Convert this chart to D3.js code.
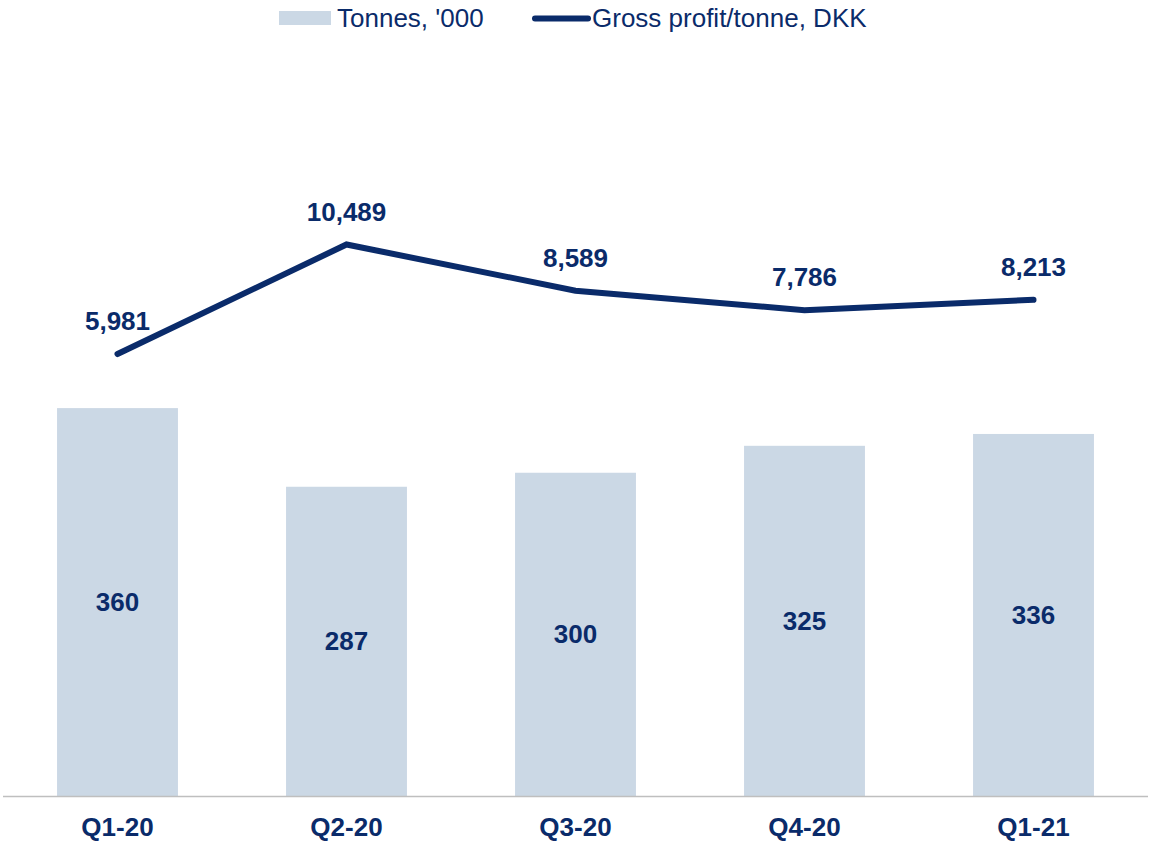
<!DOCTYPE html>
<html>
<head>
<meta charset="utf-8">
<script src="https://cdn.jsdelivr.net/npm/d3@7"></script>
<style>
  body { margin: 0; background: #fff; }
  svg text { font-family: Arial, "Liberation Sans", sans-serif; }
</style>
</head>
<body>
<svg id="chart" width="1152" height="841"></svg>
<script>
// chart values
const quarters = ["Q1-20", "Q2-20", "Q3-20", "Q4-20", "Q1-21"];
const tonnes = [360, 287, 300, 325, 336];
const profitPerTonne = [5981, 10489, 8589, 7786, 8213];
const legendLabels = ["Tonnes, '000", "Gross profit/tonne, DKK"];

const navy = "#0a2b6a";
const barFill = "#cbd8e5";

const svg = d3.select("#chart");

const x = d3.scaleBand()
    .domain(quarters)
    .range([3, 1148])
    .paddingInner(0.472)
    .paddingOuter(0.236);

const yBar = d3.scaleLinear().domain([0, 400]).range([796, 365]);
const yLine = d3.scaleLinear().domain([0, 12000]).range([499.3, 207.8]);

const cx = (d, i) => x(quarters[i]) + x.bandwidth() / 2;

// bars
svg.append("g")
    .selectAll("rect")
    .data(tonnes)
    .join("rect")
    .attr("x", (d, i) => x(quarters[i]))
    .attr("y", d => yBar(d))
    .attr("width", x.bandwidth())
    .attr("height", d => yBar(0) - yBar(d))
    .attr("fill", barFill);

// bar labels, centred in bar
svg.append("g")
    .selectAll("text")
    .data(tonnes)
    .join("text")
    .attr("x", cx)
    .attr("y", d => (yBar(d) + yBar(0)) / 2 + 9)
    .attr("text-anchor", "middle")
    .attr("font-size", 26)
    .attr("font-weight", "bold")
    .attr("fill", navy)
    .text(d => d3.format(",")(d));

// baseline axis
svg.append("line")
    .attr("x1", 3).attr("x2", 1148)
    .attr("y1", 796.5).attr("y2", 796.5)
    .attr("stroke", "#bfbfbf")
    .attr("stroke-width", 1.5);

// category labels
svg.append("g")
    .selectAll("text")
    .data(quarters)
    .join("text")
    .attr("x", d => x(d) + x.bandwidth() / 2)
    .attr("y", 836)
    .attr("text-anchor", "middle")
    .attr("font-size", 26)
    .attr("font-weight", "bold")
    .attr("fill", navy)
    .text(d => d);

// profit line
const line = d3.line()
    .x(cx)
    .y(d => yLine(d));

svg.append("path")
    .datum(profitPerTonne)
    .attr("d", line)
    .attr("fill", "none")
    .attr("stroke", navy)
    .attr("stroke-width", 6)
    .attr("stroke-linecap", "round")
    .attr("stroke-linejoin", "miter");

svg.append("g")
    .selectAll("text")
    .data(profitPerTonne)
    .join("text")
    .attr("x", cx)
    .attr("y", d => yLine(d) - 24)
    .attr("text-anchor", "middle")
    .attr("font-size", 26)
    .attr("font-weight", "bold")
    .attr("fill", navy)
    .text(d => d3.format(",")(d));

// legend
const legend = svg.append("g");
legend.append("rect")
    .attr("x", 279).attr("y", 11)
    .attr("width", 52).attr("height", 14)
    .attr("fill", barFill);
legend.append("text")
    .attr("x", 337).attr("y", 27)
    .attr("font-size", 26)
    .attr("fill", navy)
    .text(legendLabels[0]);
legend.append("line")
    .attr("x1", 535).attr("x2", 588)
    .attr("y1", 18.5).attr("y2", 18.5)
    .attr("stroke", navy)
    .attr("stroke-width", 6)
    .attr("stroke-linecap", "round");
legend.append("text")
    .attr("x", 592).attr("y", 27)
    .attr("font-size", 26)
    .attr("fill", navy)
    .text(legendLabels[1]);
</script>
</body>
</html>
